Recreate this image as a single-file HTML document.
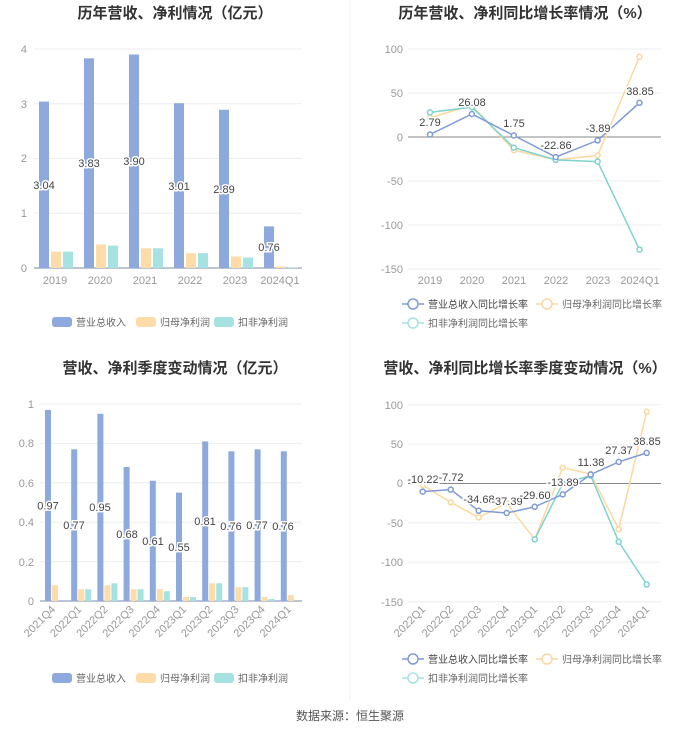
<!DOCTYPE html>
<html><head><meta charset="utf-8"><style>
body{margin:0;background:#fff;}
svg{display:block;font-family:"Liberation Sans","Noto Sans CJK SC",sans-serif;}
.t{font-size:15px;font-weight:bold;fill:#333;text-anchor:middle}
.ax{font-size:11px;fill:#999}
.g{stroke:#eceef3;stroke-width:1}
.dl{font-size:11px;fill:#444;text-anchor:middle;paint-order:stroke;stroke:#fff;stroke-width:3px}
.lg{font-size:10px;fill:#666}
</style></head><body>
<svg width="700" height="733" viewBox="0 0 700 733">
<line x1="350" y1="0" x2="350" y2="700" stroke="#f2f2f2"/>
<text class="t" x="175" y="18">历年营收、净利情况（亿元）</text>
<text class="t" x="525" y="18">历年营收、净利同比增长率情况（%）</text>
<text class="t" x="175" y="373">营收、净利季度变动情况（亿元）</text>
<text class="t" x="525" y="373">营收、净利同比增长率季度变动情况（%）</text>

<!-- TOP LEFT -->
<g class="g"><line x1="34" x2="302" y1="49" y2="49"/><line x1="34" x2="302" y1="103.75" y2="103.75"/><line x1="34" x2="302" y1="158.5" y2="158.5"/><line x1="34" x2="302" y1="213.25" y2="213.25"/></g>
<line x1="34" x2="302" y1="268" y2="268" stroke="#7c8ab0"/>
<g class="ax" text-anchor="end"><text x="27" y="53">4</text><text x="27" y="108">3</text><text x="27" y="162">2</text><text x="27" y="217">1</text><text x="27" y="272">0</text></g>
<g fill="#8eaadc">
<rect x="39" y="101.6" width="10" height="166.4"/><rect x="84" y="58.3" width="10" height="209.7"/><rect x="129" y="54.5" width="10" height="213.5"/><rect x="174" y="103.2" width="10" height="164.8"/><rect x="219" y="109.8" width="10" height="158.2"/><rect x="264" y="226.4" width="10" height="41.6"/></g>
<g fill="#fddcaa">
<rect x="51" y="251.6" width="10" height="16.4"/><rect x="96" y="244.5" width="10" height="23.5"/><rect x="141" y="248.3" width="10" height="19.7"/><rect x="186" y="253.2" width="10" height="14.8"/><rect x="231" y="256.5" width="10" height="11.5"/><rect x="276" y="266.4" width="10" height="1.6"/></g>
<g fill="#a6e2e2">
<rect x="63" y="251.6" width="10" height="16.4"/><rect x="108" y="245.6" width="10" height="22.4"/><rect x="153" y="248.3" width="10" height="19.7"/><rect x="198" y="253.2" width="10" height="14.8"/><rect x="243" y="257.6" width="10" height="10.4"/><rect x="288" y="267.4" width="10" height="0.6"/></g>
<g class="dl"><text x="44" y="189">3.04</text><text x="89" y="167">3.83</text><text x="134" y="165">3.90</text><text x="179" y="190">3.01</text><text x="224" y="193">2.89</text><text x="269" y="251">0.76</text></g>
<g class="ax" text-anchor="middle"><text x="55" y="284">2019</text><text x="100" y="284">2020</text><text x="145" y="284">2021</text><text x="190" y="284">2022</text><text x="235" y="284">2023</text><text x="280" y="284">2024Q1</text></g>
<rect x="52" y="317" width="20" height="10" rx="3" fill="#8eaadc"/><text class="lg" x="76" y="326">营业总收入</text>
<rect x="136" y="317" width="20" height="10" rx="3" fill="#fddcaa"/><text class="lg" x="160" y="326">归母净利润</text>
<rect x="214" y="317" width="20" height="10" rx="3" fill="#a6e2e2"/><text class="lg" x="238" y="326">扣非净利润</text>

<!-- TOP RIGHT -->
<g class="g"><line x1="408" x2="661" y1="49" y2="49"/><line x1="408" x2="661" y1="93" y2="93"/><line x1="408" x2="661" y1="181" y2="181"/><line x1="408" x2="661" y1="225" y2="225"/><line x1="408" x2="661" y1="269" y2="269"/></g>
<line x1="408" x2="661" y1="137" y2="137" stroke="#888"/>
<g class="ax" text-anchor="end"><text x="403" y="53">100</text><text x="403" y="97">50</text><text x="403" y="141">0</text><text x="403" y="185">-50</text><text x="403" y="229">-100</text><text x="403" y="273">-150</text></g>
<g class="ax" text-anchor="middle"><text x="430" y="284">2019</text><text x="472" y="284">2020</text><text x="514" y="284">2021</text><text x="556" y="284">2022</text><text x="598" y="284">2023</text><text x="640" y="284">2024Q1</text></g>
<g fill="#fff" stroke-width="1.5">
<polyline fill="none" stroke="#fcd8a0" points="430,117.6 471.9,105.3 513.8,150.2 555.7,159.9 597.6,155.5 639.5,56.9"/>
<polyline fill="none" stroke="#7fd3cf" points="430,112.4 471.9,107.1 513.8,147.6 555.7,159.9 597.6,161.6 639.5,249.6"/>
<polyline fill="none" stroke="#7f9bd6" points="430,134.5 471.9,114 513.8,135.5 555.7,157.1 597.6,140.4 639.5,102.8"/>
<g stroke="#fcd8a0"><circle cx="430" cy="117.6" r="2.5"/><circle cx="471.9" cy="105.3" r="2.5"/><circle cx="513.8" cy="150.2" r="2.5"/><circle cx="555.7" cy="159.9" r="2.5"/><circle cx="597.6" cy="155.5" r="2.5"/><circle cx="639.5" cy="56.9" r="2.5"/></g>
<g stroke="#7fd3cf"><circle cx="430" cy="112.4" r="2.5"/><circle cx="471.9" cy="107.1" r="2.5"/><circle cx="513.8" cy="147.6" r="2.5"/><circle cx="555.7" cy="159.9" r="2.5"/><circle cx="597.6" cy="161.6" r="2.5"/><circle cx="639.5" cy="249.6" r="2.5"/></g>
<g stroke="#7f9bd6"><circle cx="430" cy="134.5" r="2.5"/><circle cx="471.9" cy="114" r="2.5"/><circle cx="513.8" cy="135.5" r="2.5"/><circle cx="555.7" cy="157.1" r="2.5"/><circle cx="597.6" cy="140.4" r="2.5"/><circle cx="639.5" cy="102.8" r="2.5"/></g>
</g>
<g class="dl"><text x="430" y="126">2.79</text><text x="472" y="106">26.08</text><text x="514" y="127">1.75</text><text x="556" y="149">-22.86</text><text x="598" y="132">-3.89</text><text x="640" y="95">38.85</text></g>
<g stroke-width="1.5" fill="#fff"><line x1="402" x2="424" y1="304" y2="304" stroke="#7f9bd6"/><circle cx="413" cy="304" r="5" stroke="#7f9bd6"/>
<line x1="536" x2="558" y1="304" y2="304" stroke="#fcd8a0"/><circle cx="547" cy="304" r="5" stroke="#fcd8a0"/>
<line x1="402" x2="424" y1="323" y2="323" stroke="#a6e2e2"/><circle cx="413" cy="323" r="5" stroke="#a6e2e2"/></g>
<text class="lg" x="428" y="308" style="fill:#444">营业总收入同比增长率</text><text class="lg" x="562" y="308">归母净利润同比增长率</text><text class="lg" x="428" y="327">扣非净利润同比增长率</text>

<!-- BOTTOM LEFT -->
<g class="g"><line x1="40" x2="302" y1="404" y2="404"/><line x1="40" x2="302" y1="443.4" y2="443.4"/><line x1="40" x2="302" y1="482.8" y2="482.8"/><line x1="40" x2="302" y1="522.2" y2="522.2"/><line x1="40" x2="302" y1="561.6" y2="561.6"/></g>
<line x1="40" x2="302" y1="601" y2="601" stroke="#7c8ab0"/>
<g class="ax" text-anchor="end"><text x="34" y="408">1</text><text x="34" y="447">0.8</text><text x="34" y="487">0.6</text><text x="34" y="526">0.4</text><text x="34" y="566">0.2</text><text x="34" y="605">0</text></g>
<g fill="#8eaadc">
<rect x="45" y="409.9" width="6" height="191.1"/><rect x="71.2" y="449.3" width="6" height="151.7"/><rect x="97.4" y="413.8" width="6" height="187.2"/><rect x="123.6" y="467" width="6" height="134"/><rect x="149.8" y="480.8" width="6" height="120.2"/><rect x="176" y="492.6" width="6" height="108.4"/><rect x="202.2" y="441.4" width="6" height="159.6"/><rect x="228.4" y="451.3" width="6" height="149.7"/><rect x="254.6" y="449.3" width="6" height="151.7"/><rect x="280.8" y="451.3" width="6" height="149.7"/></g>
<g fill="#fddcaa">
<rect x="52" y="585.2" width="6" height="15.8"/><rect x="78.2" y="589.2" width="6" height="11.8"/><rect x="104.4" y="585.2" width="6" height="15.8"/><rect x="130.6" y="589.2" width="6" height="11.8"/><rect x="156.8" y="589.2" width="6" height="11.8"/><rect x="183" y="597" width="6" height="4"/><rect x="209.2" y="583.3" width="6" height="17.7"/><rect x="235.4" y="587.2" width="6" height="13.8"/><rect x="261.6" y="597" width="6" height="4"/><rect x="287.8" y="595.1" width="6" height="5.9"/></g>
<g fill="#a6e2e2">
<rect x="85.2" y="589.2" width="6" height="11.8"/><rect x="111.4" y="583.3" width="6" height="17.7"/><rect x="137.6" y="589.2" width="6" height="11.8"/><rect x="163.8" y="591.2" width="6" height="9.8"/><rect x="190" y="597" width="6" height="4"/><rect x="216.2" y="583.3" width="6" height="17.7"/><rect x="242.4" y="587.2" width="6" height="13.8"/><rect x="268.6" y="599" width="6" height="2"/></g>
<g class="dl"><text x="48" y="509.5">0.97</text><text x="74" y="529">0.77</text><text x="100" y="511">0.95</text><text x="127" y="538">0.68</text><text x="153" y="545">0.61</text><text x="179" y="551">0.55</text><text x="205" y="525">0.81</text><text x="231" y="530">0.76</text><text x="257" y="529">0.77</text><text x="283" y="530">0.76</text></g>
<g class="ax" text-anchor="end">
<text transform="translate(56,610) rotate(-45)">2021Q4</text><text transform="translate(82.2,610) rotate(-45)">2022Q1</text><text transform="translate(108.4,610) rotate(-45)">2022Q2</text><text transform="translate(134.6,610) rotate(-45)">2022Q3</text><text transform="translate(160.8,610) rotate(-45)">2022Q4</text><text transform="translate(187,610) rotate(-45)">2023Q1</text><text transform="translate(213.2,610) rotate(-45)">2023Q2</text><text transform="translate(239.4,610) rotate(-45)">2023Q3</text><text transform="translate(265.6,610) rotate(-45)">2023Q4</text><text transform="translate(291.8,610) rotate(-45)">2024Q1</text></g>
<rect x="52" y="673" width="20" height="10" rx="3" fill="#8eaadc"/><text class="lg" x="76" y="682">营业总收入</text>
<rect x="136" y="673" width="20" height="10" rx="3" fill="#fddcaa"/><text class="lg" x="160" y="682">归母净利润</text>
<rect x="214" y="673" width="20" height="10" rx="3" fill="#a6e2e2"/><text class="lg" x="238" y="682">扣非净利润</text>

<!-- BOTTOM RIGHT -->
<g class="g"><line x1="408" x2="661" y1="404.7" y2="404.7"/><line x1="408" x2="661" y1="444.1" y2="444.1"/><line x1="408" x2="661" y1="522.9" y2="522.9"/><line x1="408" x2="661" y1="562.3" y2="562.3"/><line x1="408" x2="661" y1="601.7" y2="601.7"/></g>
<line x1="408" x2="661" y1="483.5" y2="483.5" stroke="#888"/>
<g class="ax" text-anchor="end"><text x="403" y="409">100</text><text x="403" y="448">50</text><text x="403" y="487">0</text><text x="403" y="527">-50</text><text x="403" y="566">-100</text><text x="403" y="606">-150</text></g>
<g class="ax" text-anchor="end">
<text transform="translate(426,610) rotate(-45)">2022Q1</text><text transform="translate(454,610) rotate(-45)">2022Q2</text><text transform="translate(482,610) rotate(-45)">2022Q3</text><text transform="translate(510,610) rotate(-45)">2022Q4</text><text transform="translate(538,610) rotate(-45)">2023Q1</text><text transform="translate(566,610) rotate(-45)">2023Q2</text><text transform="translate(594,610) rotate(-45)">2023Q3</text><text transform="translate(622,610) rotate(-45)">2023Q4</text><text transform="translate(650,610) rotate(-45)">2024Q1</text></g>
<g fill="#fff" stroke-width="1.5">
<polyline fill="none" stroke="#fcd8a0" points="422.7,485.1 450.7,502.4 478.7,517.4 506.7,503.2 534.7,539.4 562.7,467.7 590.7,474 618.7,529.2 646.7,411.8"/>
<polyline fill="none" stroke="#7fd3cf" points="534.7,539.4 562.7,483.5 590.7,475.6 618.7,541.8 646.7,584.4"/>
<polyline fill="none" stroke="#7f9bd6" points="422.7,491.6 450.7,489.6 478.7,510.8 506.7,513 534.7,506.8 562.7,494.4 590.7,474.5 618.7,461.9 646.7,452.9"/>
<g stroke="#fcd8a0"><circle cx="422.7" cy="485.1" r="2.5"/><circle cx="450.7" cy="502.4" r="2.5"/><circle cx="478.7" cy="517.4" r="2.5"/><circle cx="506.7" cy="503.2" r="2.5"/><circle cx="534.7" cy="539.4" r="2.5"/><circle cx="562.7" cy="467.7" r="2.5"/><circle cx="590.7" cy="474" r="2.5"/><circle cx="618.7" cy="529.2" r="2.5"/><circle cx="646.7" cy="411.8" r="2.5"/></g>
<g stroke="#7fd3cf"><circle cx="534.7" cy="539.4" r="2.5"/><circle cx="562.7" cy="483.5" r="2.5"/><circle cx="590.7" cy="475.6" r="2.5"/><circle cx="618.7" cy="541.8" r="2.5"/><circle cx="646.7" cy="584.4" r="2.5"/></g>
<g stroke="#7f9bd6"><circle cx="422.7" cy="491.6" r="2.5"/><circle cx="450.7" cy="489.6" r="2.5"/><circle cx="478.7" cy="510.8" r="2.5"/><circle cx="506.7" cy="513" r="2.5"/><circle cx="534.7" cy="506.8" r="2.5"/><circle cx="562.7" cy="494.4" r="2.5"/><circle cx="590.7" cy="474.5" r="2.5"/><circle cx="618.7" cy="461.9" r="2.5"/><circle cx="646.7" cy="452.9" r="2.5"/></g>
</g>
<g class="dl"><text x="423" y="483">-10.22</text><text x="451" y="481">-7.72</text><text x="479" y="503">-34.68</text><text x="507" y="505">-37.39</text><text x="535" y="499">-29.60</text><text x="563" y="486">-13.89</text><text x="591" y="466">11.38</text><text x="619" y="454">27.37</text><text x="647" y="445">38.85</text></g>
<g stroke-width="1.5" fill="#fff"><line x1="402" x2="424" y1="659" y2="659" stroke="#7f9bd6"/><circle cx="413" cy="659" r="5" stroke="#7f9bd6"/>
<line x1="536" x2="558" y1="659" y2="659" stroke="#fcd8a0"/><circle cx="547" cy="659" r="5" stroke="#fcd8a0"/>
<line x1="402" x2="424" y1="678" y2="678" stroke="#a6e2e2"/><circle cx="413" cy="678" r="5" stroke="#a6e2e2"/></g>
<text class="lg" x="428" y="663" style="fill:#444">营业总收入同比增长率</text><text class="lg" x="562" y="663">归母净利润同比增长率</text><text class="lg" x="428" y="682">扣非净利润同比增长率</text>

<text x="350" y="720" text-anchor="middle" style="font-size:12px;fill:#555">数据来源：恒生聚源</text>
</svg>
</body></html>
